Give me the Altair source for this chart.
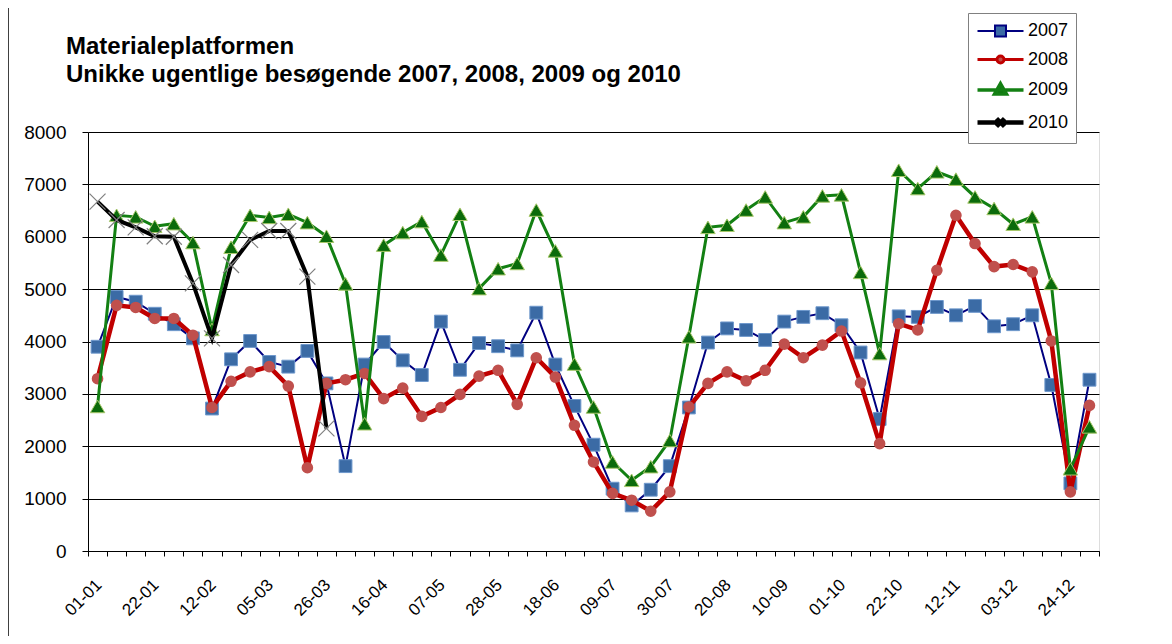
import json
import altair as alt
import pandas as pd

# ---------------- data ----------------
weeks = ["01-01", "08-01", "15-01", "22-01", "29-01", "05-02", "12-02", "19-02", "26-02",
         "05-03", "12-03", "19-03", "26-03", "02-04", "09-04", "16-04", "23-04", "30-04",
         "07-05", "14-05", "21-05", "28-05", "04-06", "11-06", "18-06", "25-06", "02-07",
         "09-07", "16-07", "23-07", "30-07", "06-08", "13-08", "20-08", "27-08", "03-09",
         "10-09", "17-09", "24-09", "01-10", "08-10", "15-10", "22-10", "29-10", "05-11",
         "12-11", "19-11", "26-11", "03-12", "10-12", "17-12", "24-12", "31-12"]

years = ["2007", "2008", "2009", "2010"]

v2007 = [3900, 4850, 4760, 4530, 4330, 4060, 2720, 3660, 4010, 3610, 3520, 3820, 3200,
         1620, 3560, 3990, 3640, 3360, 4380, 3460, 3970, 3910, 3830, 4550, 3560, 2770,
         2030, 1190, 870, 1170, 1620, 2740, 3980, 4250, 4220, 4030, 4380, 4470, 4540,
         4310, 3790, 2520, 4480, 4470, 4660, 4500, 4680, 4290, 4330, 4500, 3170, 1290, 3270]

v2008 = [3290, 4690, 4650, 4440, 4440, 4120, 2740, 3240, 3420, 3520, 3150, 1590, 3200,
         3270, 3390, 2910, 3110, 2570, 2740, 2990, 3340, 3450, 2800, 3690, 3320, 2400,
         1700, 1100, 970, 760, 1130, 2750, 3200, 3420, 3250, 3450, 3950, 3690, 3930,
         4200, 3210, 2050, 4340, 4220, 5360, 6410, 5870, 5430, 5470, 5330, 4010, 1130, 2780]

v2009 = [2760, 6410, 6380, 6200, 6250, 5890, 4230, 5800, 6410, 6370, 6430, 6270, 6010,
         5100, 2430, 5840, 6080, 6290, 5650, 6430, 5010, 5390, 5490, 6510, 5730, 3570,
         2750, 1700, 1350, 1610, 2110, 4090, 6180, 6220, 6510, 6760, 6270, 6380, 6780,
         6800, 5320, 3770, 7270, 6920, 7240, 7100, 6760, 6540, 6240, 6380, 5110, 1570, 2370]

v2010 = [6670, 6320, 6180, 6010, 6000, 5110, 4060, 5460, 5940, 6110, 6110, 5240, 2340]

y_ticks = [0, 1000, 2000, 3000, 4000, 5000, 6000, 7000, 8000]

title_lines = ["Materialeplatformen",
               "Unikke ugentlige besøgende 2007, 2008, 2009 og 2010"]

rows = []
for yr, vals in zip(years, [v2007, v2008, v2009, v2010]):
    for w, v in zip(weeks, vals):
        rows.append({"year": yr, "week": w, "value": v})
df = pd.DataFrame(rows)

# ---------------- styles ----------------
FONT = "Liberation Sans"
line_colors = ["#000080", "#C00000", "#138013", "#000000"]
line_widths = [2, 4.5, 3, 4]
mk_shapes = ["square", "circle", "triangle-up", "M-1,-1L1,1M-1,1L1,-1"]
mk_fills = ["#3B6BA5", "#C0504D", "#0B6B0B", "transparent"]
mk_strokes = ["#6E98CC", "#C0504D", "#A8C86A", "#7F7F7F"]
mk_strokew = [1, 0, 1, 1.2]
mk_sizes = [165, 135, 210, 256]

# legend symbols: unit = 10 px (symbolSize 400 -> 20 px box); line spans 46 px
legend_paths = [
    "M-2.3,0H-0.6M0.6,0H2.3M-0.55,-0.55H0.55V0.55H-0.55Z",
    "M-2.3,0H-0.4M0.4,0H2.3M-0.35,0A0.35,0.35,0,1,1,0.35,0A0.35,0.35,0,1,1,-0.35,0Z",
    "M-2.3,0H2.3M0,-0.62L0.58,0.4L-0.58,0.4Z",
    "M-2.3,0H2.3M-0.4,-0.4L0.4,0.4M-0.4,0.4L0.4,-0.4",
]
legend_fills = ["#3B6BA5", "#C0504D", "#0B6B0B", "#000000"]

shown = weeks[::3]
label_expr = "indexof(%s, datum.value) >= 0 ? datum.value : ''" % json.dumps(shown)

x_enc = alt.X(
    "week:O",
    sort=weeks,
    scale=alt.Scale(type="band", domain=weeks, paddingInner=0, paddingOuter=0),
    bandPosition=0.5,
    axis=alt.Axis(
        title=None, labelAngle=-45, labelExpr=label_expr, labelOverlap=False,
        tickBand="extent", tickSize=5, tickColor="black", domainColor="black",
        labelFontSize=17, labelColor="black", labelFont=FONT,
        labelAlign="right", labelBaseline="middle", labelPadding=26, labelOffset=1,
        grid=False,
    ),
)
y_enc = alt.Y(
    "value:Q",
    scale=alt.Scale(domain=[0, 8000], nice=False),
    axis=alt.Axis(
        title=None, values=y_ticks, format="d", grid=True, gridColor="black", gridWidth=1,
        tickSize=6, tickColor="black", domainColor="black",
        labelFontSize=19, labelColor="black", labelFont=FONT, labelPadding=16,
    ),
)

base = alt.Chart(df)
layers = []
for i, yr in enumerate(years):
    sub = base.transform_filter(alt.datum.year == yr)
    layers.append(
        sub.mark_line(color=line_colors[i], strokeWidth=line_widths[i]).encode(x=x_enc, y=y_enc)
    )
    layers.append(
        sub.mark_point(
            shape=mk_shapes[i], fill=mk_fills[i], stroke=mk_strokes[i],
            strokeWidth=mk_strokew[i], size=mk_sizes[i], opacity=1, filled=False,
        ).encode(x=x_enc, y=y_enc)
    )

leg = alt.Legend(
    title=None, orient="none", legendX=880, legendY=-119,
    fillColor="white", strokeColor="#808080", padding=7,
    labelFontSize=18, labelFont=FONT, labelColor="black", labelOffset=15,
    symbolSize=400, symbolOffset=13, symbolOpacity=1, rowPadding=7,
)
legend_layer = base.transform_filter("false").mark_point(opacity=1, filled=False).encode(
    shape=alt.Shape("year:O", scale=alt.Scale(domain=years, range=legend_paths), legend=leg),
    stroke=alt.Stroke("year:O", scale=alt.Scale(domain=years, range=line_colors), legend=leg),
    fill=alt.Fill("year:O", scale=alt.Scale(domain=years, range=legend_fills), legend=leg),
    strokeWidth=alt.StrokeWidth("year:O", scale=alt.Scale(domain=years, range=line_widths), legend=leg),
)

border = alt.Chart(pd.DataFrame({"a": [0]})).mark_rule(color="black", strokeWidth=1.5).encode(
    x=alt.value(-80), y=alt.value(-127), y2=alt.value(520)
)

chart = alt.layer(border, *layers, legend_layer).properties(
    width=1011,
    height=419,
    title=alt.TitleParams(
        text=title_lines, anchor="start", frame="group", dx=-22, fontSize=24, font=FONT,
        fontWeight="bold", lineHeight=28, offset=0, dy=83, color="black",
    ),
    autosize=alt.AutoSizeParams(type="none"),
    padding={"left": 80, "top": 124, "right": 57, "bottom": 85},
).configure_view(stroke="#808080", strokeWidth=1).configure(background="white")

chart.save("out.html", embed_options={"renderer": "svg", "actions": False})
